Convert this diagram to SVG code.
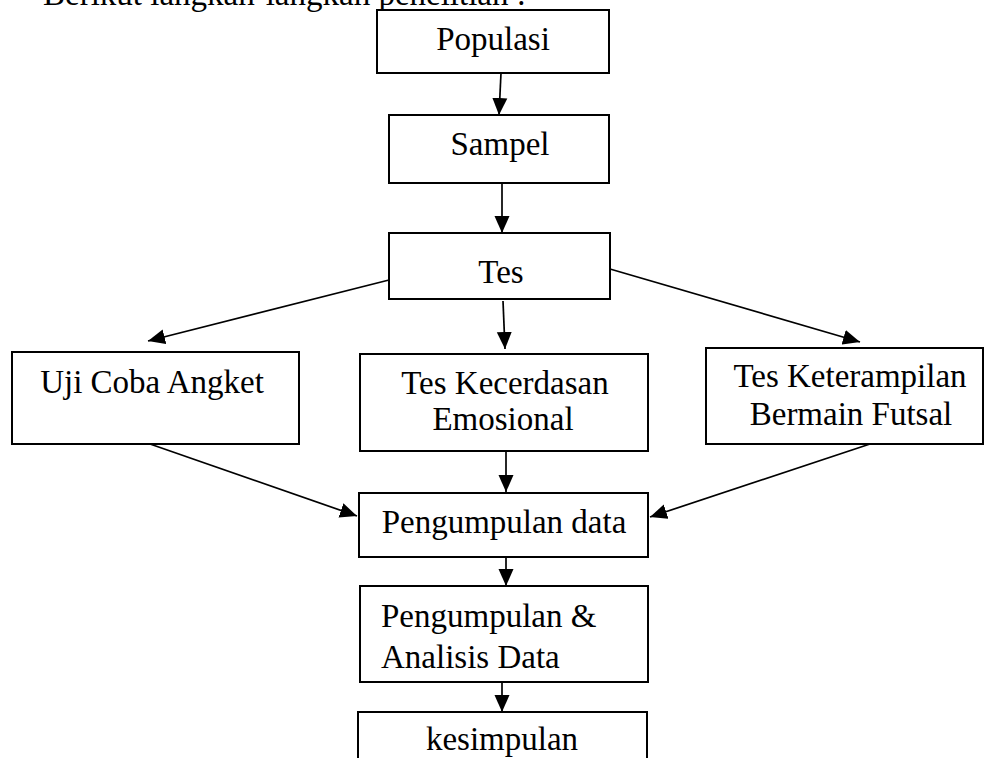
<svg xmlns="http://www.w3.org/2000/svg" width="985" height="758" viewBox="0 0 985 758">
<style>
  .box { fill: #ffffff; stroke: #000000; stroke-width: 2; }
  .t { font-family: "Liberation Serif", "Times New Roman", serif; font-size: 33px; fill: #000000; }
  .c { text-anchor: middle; }
  .edge { stroke: #000000; stroke-width: 1.7; fill: none; marker-end: url(#arrow); }
</style>
<defs>
  <marker id="arrow" markerUnits="userSpaceOnUse" markerWidth="18" markerHeight="16" refX="17" refY="8" orient="auto">
    <path d="M0,0.5 L17,8 L0,15.5 Z" fill="#000000"/>
  </marker>
</defs>
<rect width="985" height="758" fill="#ffffff"/>
<text class="t" x="43" y="5">Berikut langkah-langkah penelitian :</text>

<g id="connectors">
  <line class="edge" x1="501" y1="73" x2="499" y2="115"/>
  <line class="edge" x1="502" y1="183" x2="502" y2="233"/>
  <line class="edge" x1="389" y1="280" x2="148" y2="341"/>
  <line class="edge" x1="503" y1="301" x2="505" y2="349"/>
  <line class="edge" x1="610" y1="269" x2="860" y2="342"/>
  <line class="edge" x1="150" y1="444" x2="357" y2="516"/>
  <line class="edge" x1="506" y1="451" x2="506" y2="492"/>
  <line class="edge" x1="870" y1="444" x2="650" y2="517"/>
  <line class="edge" x1="506" y1="557" x2="506" y2="586"/>
  <line class="edge" x1="502" y1="682" x2="502" y2="712"/>
</g>

<g id="populasi">
  <rect class="box" x="377" y="10" width="232" height="63"/>
  <text class="t c" x="493" y="50">Populasi</text>
</g>
<g id="sampel">
  <rect class="box" x="389" y="115" width="220" height="68"/>
  <text class="t c" x="500" y="155">Sampel</text>
</g>
<g id="tes">
  <rect class="box" x="389" y="233" width="221" height="66"/>
  <text class="t c" x="501" y="283">Tes</text>
</g>
<g id="uji-coba-angket">
  <rect class="box" x="12" y="352" width="287" height="92"/>
  <text class="t c" x="152" y="393">Uji Coba Angket</text>
</g>
<g id="tes-kecerdasan">
  <rect class="box" x="360" y="354" width="288" height="97"/>
  <text class="t c" x="505" y="394">Tes Kecerdasan</text>
  <text class="t c" x="503" y="430">Emosional</text>
</g>
<g id="tes-keterampilan">
  <rect class="box" x="706" y="348" width="277" height="96"/>
  <text class="t c" x="850" y="387">Tes Keterampilan</text>
  <text class="t c" x="851" y="425">Bermain Futsal</text>
</g>
<g id="pengumpulan-data">
  <rect class="box" x="359" y="493" width="289" height="64"/>
  <text class="t c" x="504" y="533">Pengumpulan data</text>
</g>
<g id="pengumpulan-analisis">
  <rect class="box" x="360" y="586" width="288" height="96"/>
  <text class="t" x="381" y="627">Pengumpulan &amp;</text>
  <text class="t" x="381" y="668">Analisis Data</text>
</g>
<g id="kesimpulan">
  <rect class="box" x="358" y="712" width="289" height="60"/>
  <text class="t c" x="502" y="750">kesimpulan</text>
</g>
</svg>
